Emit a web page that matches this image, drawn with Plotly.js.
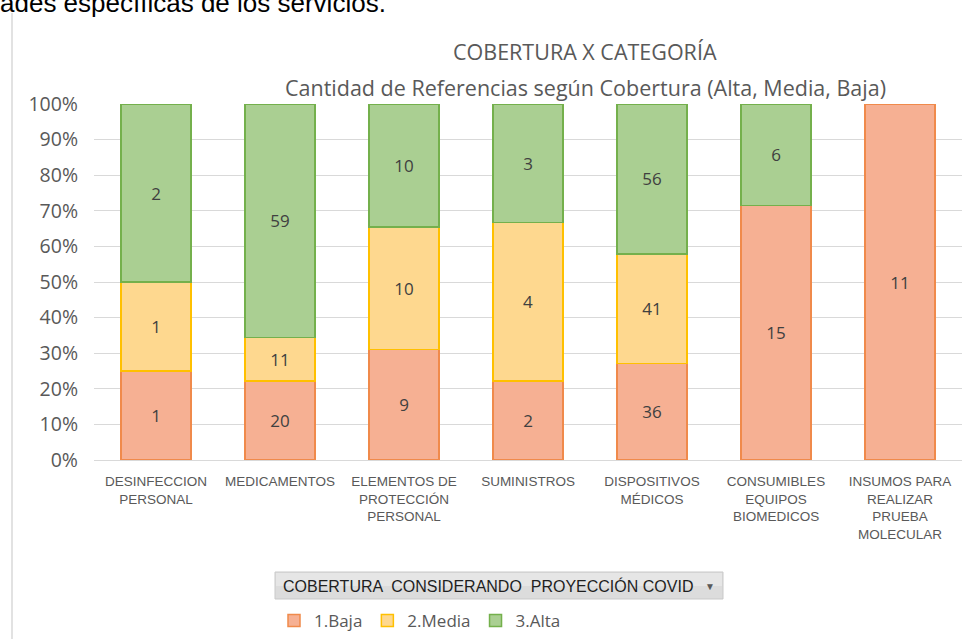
<!DOCTYPE html>
<html><head><meta charset="utf-8">
<script src="https://cdn.plot.ly/plotly-3.0.1.min.js"></script>
<style>html,body{margin:0;padding:0;background:#fff;}#chart{width:976px;height:639px;}</style>
</head><body><div id="chart"></div>
<script>
const categories = ["DESINFECCION<br>PERSONAL","MEDICAMENTOS","ELEMENTOS DE<br>PROTECCIÓN<br>PERSONAL","SUMINISTROS","DISPOSITIVOS<br>MÉDICOS","CONSUMIBLES<br>EQUIPOS<br>BIOMEDICOS","INSUMOS PARA<br>REALIZAR<br>PRUEBA<br>MOLECULAR"];
const baja  = [1, 20, 9, 2, 36, 15, 11];
const media = [1, 11, 10, 4, 41, 0, 0];
const alta  = [2, 59, 10, 3, 56, 6, 0];
const seriesNames = ["1.Baja","2.Media","3.Alta"];
const yTicks = [0,10,20,30,40,50,60,70,80,90,100];

const fills = ["#F6B093","#FED88F","#AACF92"];
const lines = ["#F08A4B","#FFC000","#74B04C"];
const series = [baja, media, alta];

const traces = series.map((vals, i) => ({
  type: 'bar',
  name: seriesNames[i],
  x: categories,
  y: vals.map(v => v === 0 ? null : v),
  text: vals.map(v => v === 0 ? '' : String(v)),
  textposition: 'inside',
  insidetextanchor: 'middle',
  textangle: 0,
  constraintext: 'none',
  textfont: {family: 'Open Sans, sans-serif', size: 17, color: '#404040'},
  hoverinfo: 'none',
  marker: {color: fills[i], line: {color: lines[i], width: 1.5}}
}));

const L = 94, R = 962, T = 104, B = 460, H = 356, W = 868;
const px = x => (x - L) / W;
const py = y => (B - y) / H;

const layout = {
  width: 976, height: 639,
  margin: {l: L, r: 976 - R, t: T, b: 639 - B, autoexpand: false},
  paper_bgcolor: '#fff', plot_bgcolor: '#fff',
  barmode: 'stack', barnorm: 'percent', bargap: 0.435,
  font: {family: 'Open Sans, sans-serif', color: '#595959'},
  showlegend: true,
  legend: {orientation: 'h', x: px(274), y: py(603), xanchor: 'left', yanchor: 'top',
           font: {size: 17, color: '#595959', family: 'Open Sans, sans-serif'}, traceorder: 'normal', itemwidth: 30},
  xaxis: {tickvals: categories, ticktext: categories, showgrid: false, showline: true, linecolor: '#D9D9D9', linewidth: 1,
          automargin: false,
          tickfont: {family: 'Liberation Sans Narrow, Liberation Sans, sans-serif', size: 13.5, color: '#595959'},
          ticks: '', tickangle: 0, ticklabelstandoff: 9, fixedrange: true},
  yaxis: {range: [0, 100], tickvals: yTicks, ticktext: yTicks.map(v => v + '%'), showgrid: true, gridcolor: '#D9D9D9', gridwidth: 1,
          automargin: false,
          zeroline: false, ticks: '', tickfont: {size: 19.5, color: '#595959', family: 'Open Sans, sans-serif'}, ticklabelstandoff: 15, fixedrange: true},
  shapes: [
    {type: 'line', xref: 'paper', yref: 'paper', x0: px(12), x1: px(12), y0: py(13), y1: py(645), line: {color: '#D9D9D9', width: 1.5}},
    {type: 'rect', xref: 'paper', yref: 'paper', x0: px(275), x1: px(723), y0: py(599), y1: py(572), fillcolor: '#DCDCDC', line: {color: '#C9C9C9', width: 1}},
    {type: 'rect', xref: 'paper', yref: 'paper', x0: px(276), x1: px(722), y0: py(586), y1: py(573), fillcolor: '#E6E6E6', line: {width: 0}}
  ],
  annotations: [
    {text: 'ades específicas de los servicios.', xref: 'paper', yref: 'paper', x: px(-2), y: py(20), xanchor: 'left', yanchor: 'bottom', showarrow: false,
     font: {family: 'Liberation Sans, Arial, sans-serif', size: 26, color: '#000'}},
    {text: 'COBERTURA X CATEGORÍA', xref: 'paper', yref: 'paper', x: px(585), y: py(51), xanchor: 'center', yanchor: 'middle', showarrow: false,
     font: {size: 21.5, color: '#595959', family: 'Open Sans, sans-serif'}},
    {text: 'Cantidad de Referencias según Cobertura (Alta, Media, Baja)', xref: 'paper', yref: 'paper', x: px(585), y: py(87), xanchor: 'center', yanchor: 'middle', showarrow: false,
     font: {size: 21.5, color: '#595959', family: 'Open Sans, sans-serif'}},
    {text: 'COBERTURA  CONSIDERANDO  PROYECCIÓN COVID', xref: 'paper', yref: 'paper', x: px(281), y: py(585.5), xanchor: 'left', yanchor: 'middle', showarrow: false,
     font: {size: 16, color: '#1F1F1F', family: 'Liberation Sans Narrow, Liberation Sans, sans-serif'}},
    {text: '▼', xref: 'paper', yref: 'paper', x: px(710), y: py(585.5), xanchor: 'center', yanchor: 'middle', showarrow: false,
     font: {size: 10, color: '#595959'}}
  ]
};

Plotly.newPlot('chart', traces, layout, {displayModeBar: false, staticPlot: true});
</script></body></html>
